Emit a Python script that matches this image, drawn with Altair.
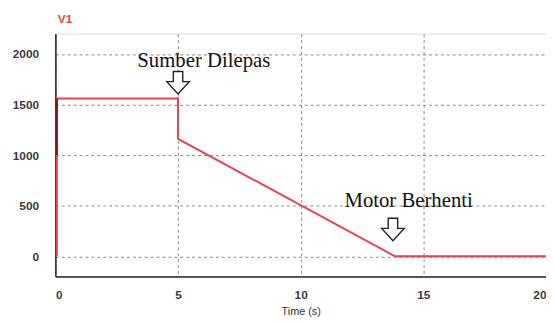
import altair as alt
import pandas as pd

# Main trace (speed vs time)
t_vals = [0.06, 0.06, 5.0, 5.0, 13.85, 20.0]
v_vals = [0, 1560, 1560, 1160, 0, 0]

# dark segment at start
dark_t = [0.06, 0.06]
dark_v = [1000, 1560]

# annotations
ann_text = ["Sumber Dilepas", "Motor Berhenti"]
ann_t = [6.05, 14.4]
ann_v = [1930, 545]
arrow_t = [5.0, 13.76]
arrow_v = [1715, 265]

x_ticks = [0, 5, 10, 15, 20]
y_ticks = [0, 500, 1000, 1500, 2000]

line_df = pd.DataFrame({"t": t_vals, "v": v_vals, "o": list(range(len(t_vals)))})
dark_df = pd.DataFrame({"t": dark_t, "v": dark_v})
ann_df = pd.DataFrame({"t": ann_t, "v": ann_v, "label": ann_text})
arr_df = pd.DataFrame({"t": arrow_t, "v": arrow_v})

xs = alt.Scale(domain=[0, 20], nice=False, zero=False)
ys = alt.Scale(domain=[-200, 2200], nice=False, zero=False)

x_axis = alt.Axis(values=x_ticks, title="Time (s)", grid=True, gridDash=[3, 3],
                  gridColor="#888888", ticks=False, labelPadding=13, format="d",
                  labelFont="Liberation Sans", labelFontSize=12, labelColor="#3a3a3a",
                  labelFontWeight="bold",
                  titleFont="Liberation Sans", titleFontSize=11, titleFontWeight="normal",
                  titleColor="#333333", titlePadding=5, domainColor="#222222", domainWidth=1.5)
y_axis = alt.Axis(values=y_ticks, title="V1", grid=True, gridDash=[3, 3],
                  gridColor="#888888", ticks=False, labelPadding=17, format="d",
                  labelFont="Liberation Sans", labelFontSize=12, labelColor="#3a3a3a",
                  labelFontWeight="bold",
                  titleFont="Liberation Sans", titleFontSize=12, titleFontWeight="bold",
                  titleColor="#e8414a", titleAngle=0, titleX=2, titleY=-15,
                  titleAlign="left", titleBaseline="middle",
                  domainColor="#222222", domainWidth=1.5)

line = alt.Chart(line_df).mark_line(color="#e8414a", strokeWidth=2).encode(
    x=alt.X("t:Q", scale=xs, axis=x_axis),
    y=alt.Y("v:Q", scale=ys, axis=y_axis),
    order="o:Q",
)

dark = alt.Chart(dark_df).mark_line(color="#7a1a1a", strokeWidth=2).encode(
    x=alt.X("t:Q", scale=xs),
    y=alt.Y("v:Q", scale=ys),
)

arrow_shape = "M -0.42 -1 L 0.42 -1 L 0.42 -0.1 L 1 -0.1 L 0 1 L -1 -0.1 L -0.42 -0.1 Z"
arrows = alt.Chart(arr_df).mark_point(shape=arrow_shape, filled=True, fill="white",
                                      stroke="#222222", strokeWidth=1.4, size=520,
                                      opacity=1).encode(
    x=alt.X("t:Q", scale=xs),
    y=alt.Y("v:Q", scale=ys),
)

texts = alt.Chart(ann_df).mark_text(font="Liberation Serif", fontSize=21, color="#111111",
                                    align="center", baseline="middle").encode(
    x=alt.X("t:Q", scale=xs),
    y=alt.Y("v:Q", scale=ys),
    text="label:N",
)

chart = alt.layer(line, dark, arrows, texts).properties(
    width=497, height=246,
    autosize=alt.AutoSizeParams(type="none"),
    padding={"left": 48, "top": 24, "right": 0, "bottom": 40},
).configure_view(stroke="#222222", strokeWidth=1.5).configure(background="white")

chart.save("out.html", embed_options={"renderer": "svg", "actions": False})
